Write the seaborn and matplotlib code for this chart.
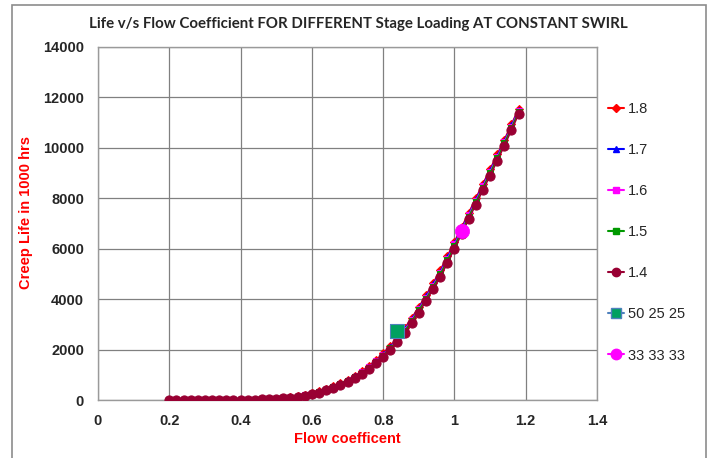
import numpy as np
import pandas as pd
import seaborn as sns
import matplotlib
matplotlib.use("Agg")
import matplotlib.pyplot as plt
from matplotlib.lines import Line2D
from matplotlib.patches import Rectangle
from matplotlib.ticker import FormatStrFormatter

# ---------------- data ----------------
flow = [0.20, 0.22, 0.24, 0.26, 0.28, 0.30, 0.32, 0.34, 0.36, 0.38,
        0.40, 0.42, 0.44, 0.46, 0.48, 0.50, 0.52, 0.54, 0.56, 0.58,
        0.60, 0.62, 0.64, 0.66, 0.68, 0.70, 0.72, 0.74, 0.76, 0.78,
        0.80, 0.82, 0.84, 0.86, 0.88, 0.90, 0.92, 0.94, 0.96, 0.98,
        1.00, 1.02, 1.04, 1.06, 1.08, 1.10, 1.12, 1.14, 1.16, 1.18]

life_18 = [0.2, 0.3, 0.4, 0.6, 1.0, 1.5, 2.2, 3.3, 4.7, 6.8,
           9.5, 13.5, 19.5, 28, 40, 56, 76, 103, 139, 192,
           260, 338, 430, 538, 660, 798, 955, 1135, 1340, 1578,
           1845, 2143, 2475, 2845, 3255, 3695, 4155, 4635, 5150, 5710,
           6280, 6850, 7430, 8010, 8580, 9160, 9740, 10330, 10940, 11560]

life_17 = [0.2, 0.3, 0.4, 0.6, 1.0, 1.4, 2.1, 3.2, 4.5, 6.6,
           9.2, 13, 19, 27, 39, 54, 74, 100, 135, 186,
           253, 329, 420, 526, 647, 783, 938, 1116, 1318, 1552,
           1817, 2111, 2440, 2806, 3212, 3650, 4108, 4586, 5096, 5652,
           6224, 6796, 7378, 7958, 8528, 9108, 9688, 10280, 10892, 11514]

life_16 = [0.2, 0.3, 0.4, 0.6, 0.9, 1.4, 2.0, 3.1, 4.4, 6.3,
           8.9, 12.5, 18, 26, 37, 53, 71, 97, 131, 179,
           246, 321, 410, 515, 634, 769, 921, 1097, 1296, 1527,
           1789, 2080, 2405, 2767, 3169, 3605, 4061, 4537, 5042, 5594,
           6168, 6742, 7326, 7906, 8476, 9056, 9636, 10230, 10844, 11468]

life_15 = [0.1, 0.2, 0.3, 0.5, 0.9, 1.3, 2.0, 2.9, 4.2, 6.1,
           8.6, 12, 17, 25, 36, 51, 69, 94, 126, 173,
           239, 312, 400, 503, 621, 754, 904, 1078, 1274, 1501,
           1761, 2048, 2370, 2728, 3126, 3560, 4014, 4488, 4988, 5536,
           6112, 6688, 7274, 7854, 8424, 9004, 9584, 10180, 10796, 11422]

life_14 = [0.1, 0.2, 0.3, 0.5, 0.8, 1.2, 1.8, 2.7, 3.9, 5.6,
           8, 11, 16, 23, 33, 48, 64, 88, 118, 160,
           225, 295, 380, 480, 595, 725, 870, 1040, 1230, 1450,
           1705, 1985, 2300, 2650, 3040, 3470, 3920, 4390, 4880, 5420,
           6000, 6580, 7170, 7750, 8320, 8900, 9480, 10080, 10700, 11330]

pt_502525_x = [0.84]
pt_502525_y = [2750]
pt_333333_x = [1.02]
pt_333333_y = [6720]

x_ticks = [0, 0.2, 0.4, 0.6, 0.8, 1.0, 1.2, 1.4]
y_ticks = [0, 2000, 4000, 6000, 8000, 10000, 12000, 14000]

# ---------------- style ----------------
sns.set_style("white")
plt.rcParams['font.family'] = ['Liberation Sans', 'DejaVu Sans']

fig = plt.figure(figsize=(7.12, 4.58), dpi=100)
ax = fig.add_axes([98/712, 1-400/458, (597-98)/712, (400-47)/458])

series = [
    ("1.8", life_18, "#FF0000", "D", 4.3, "#FF0000"),
    ("1.7", life_17, "#0000FF", "^", 5.0, "#0000FF"),
    ("1.6", life_16, "#FF00FF", "s", 4.6, "#FF00FF"),
    ("1.5", life_15, "#009900", "s", 4.6, "#009900"),
    ("1.4", life_14, "#990033", "o", 6.6, "#990033"),
]

for name, vals, col, mk, ms, mec in series:
    df = pd.DataFrame({"flow": flow, "life": vals})
    sns.lineplot(data=df, x="flow", y="life", ax=ax, color=col, marker=mk,
                 markersize=ms, markeredgecolor=mec, linewidth=1.1,
                 legend=False, zorder=3)

df_a = pd.DataFrame({"flow": pt_502525_x, "life": pt_502525_y})
sns.scatterplot(data=df_a, x="flow", y="life", ax=ax, marker="s", s=115,
                color="#00A060", edgecolor="#4F81BD", linewidth=0.8,
                legend=False, zorder=5)
df_b = pd.DataFrame({"flow": pt_333333_x, "life": pt_333333_y})
sns.scatterplot(data=df_b, x="flow", y="life", ax=ax, marker="o", s=105,
                color="#FF00FF", edgecolor="#FF00FF", linewidth=0.5,
                legend=False, zorder=5)

ax.set_xlim(0, 1.4)
ax.set_ylim(0, 14000)
ax.set_xticks(x_ticks)
ax.set_yticks(y_ticks)
ax.xaxis.set_major_formatter(FormatStrFormatter('%g'))
ax.grid(True, color="#808080", linewidth=0.9)
ax.set_axisbelow(True)
for sp in ax.spines.values():
    sp.set_color("#9a9a9a")
    sp.set_linewidth(1.0)
ax.tick_params(axis='both', length=4, color="#9a9a9a", labelsize=10.5, pad=6)
for lab in ax.get_xticklabels() + ax.get_yticklabels():
    lab.set_fontweight("bold")

ax.set_xlabel("Flow coefficent", color="#FF0000", fontweight="bold",
              fontsize=10.5, labelpad=3)
ax.set_ylabel("Creep Life in 1000 hrs", color="#FF0000", fontweight="bold",
              fontsize=10.5)
ax.yaxis.set_label_coords((33 - 98) / 499, (400 - 212) / 353)

fig.text(358/712, 1-24/458,
         "Life v/s Flow Coefficient FOR DIFFERENT Stage Loading AT CONSTANT SWIRL",
         ha="center", va="center", fontsize=10.8, fontweight="bold",
         family=["Lato", "DejaVu Sans"])

handles = [
    Line2D([], [], color="#FF0000", marker="D", markersize=4.3),
    Line2D([], [], color="#0000FF", marker="^", markersize=5.0),
    Line2D([], [], color="#FF00FF", marker="s", markersize=4.6),
    Line2D([], [], color="#009900", marker="s", markersize=4.6),
    Line2D([], [], color="#990033", marker="o", markersize=6.0),
    Line2D([], [], color="#4F81BD", marker="s", markersize=7.5,
           markerfacecolor="#00A060", markeredgecolor="#4F81BD"),
    Line2D([], [], color="#FF00FF", marker="o", markersize=7.5),
]
labels = ["1.8", "1.7", "1.6", "1.5", "1.4", "50 25 25", "33 33 33"]
fig.legend(handles, labels, loc="upper left",
           bbox_to_anchor=(602/712, 1-96/458), frameon=False,
           fontsize=10.5, handlelength=1.1, handletextpad=0.25,
           labelspacing=1.86, borderaxespad=0)

fig.patches.append(Rectangle((12/712, -0.1), (706-12)/712, 1.1 - 5/458,
                             transform=fig.transFigure, fill=False,
                             edgecolor="#8c8c8c", linewidth=1.2))

fig.savefig("out.png", dpi=100)
